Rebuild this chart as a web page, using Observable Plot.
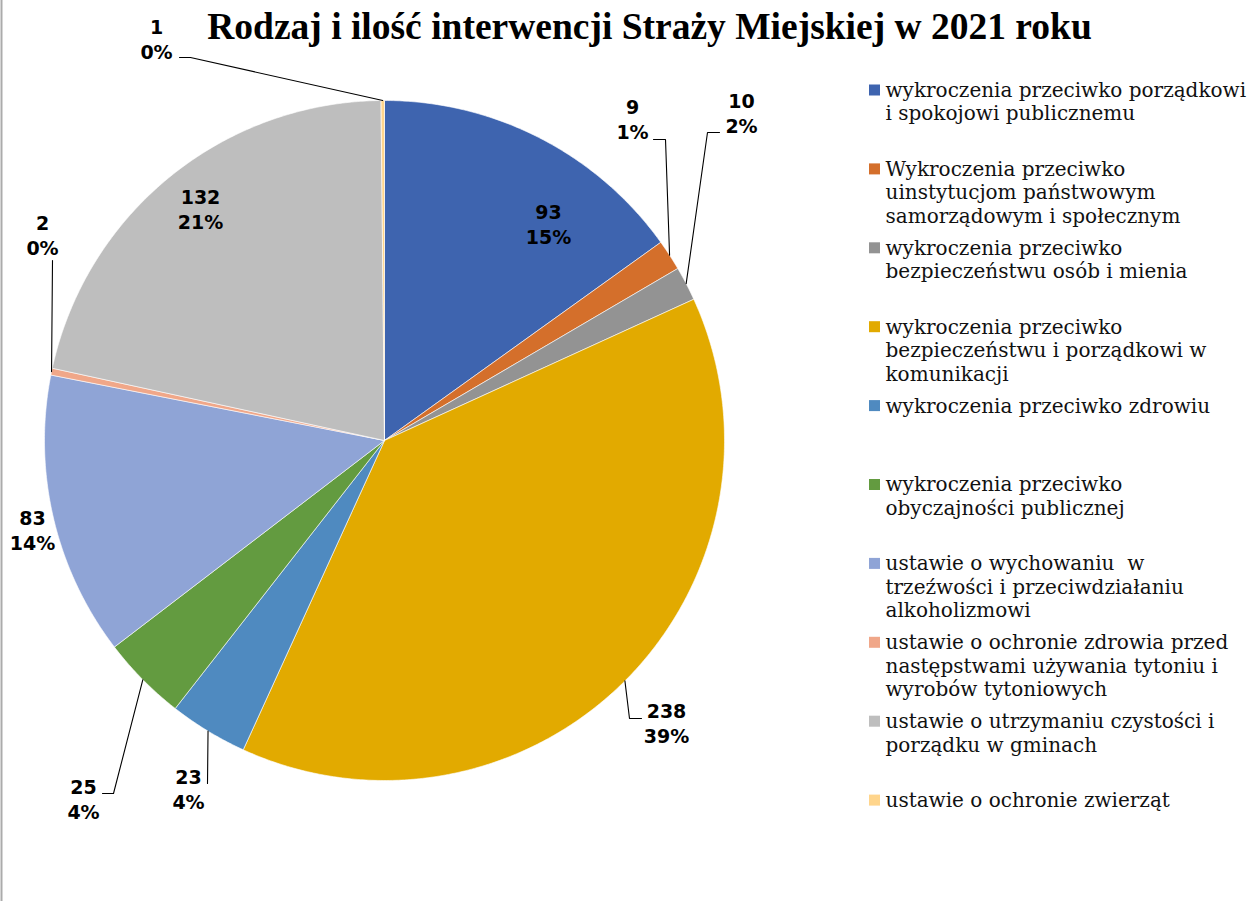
<!DOCTYPE html>
<html><head><meta charset="utf-8">
<script src="https://cdn.jsdelivr.net/npm/d3@7"></script>
<script src="https://cdn.jsdelivr.net/npm/@observablehq/plot@0.6"></script>
<style>html,body{margin:0;padding:0;background:#fff}svg{display:block}</style>
</head><body><div id="chart"></div>
<script>
// ---- data ----
const title = "Rodzaj i ilość interwencji Straży Miejskiej w 2021 roku";
const categories = [
  "wykroczenia przeciwko porządkowi i spokojowi publicznemu",
  "Wykroczenia przeciwko uinstytucjom państwowym samorządowym i społecznym",
  "wykroczenia przeciwko bezpieczeństwu osób i mienia",
  "wykroczenia przeciwko bezpieczeństwu i porządkowi w komunikacji",
  "wykroczenia przeciwko zdrowiu",
  "wykroczenia przeciwko obyczajności publicznej",
  "ustawie o wychowaniu  w trzeźwości i przeciwdziałaniu alkoholizmowi",
  "ustawie o ochronie zdrowia przed następstwami używania tytoniu i wyrobów tytoniowych",
  "ustawie o utrzymaniu czystości i porządku w gminach",
  "ustawie o ochronie zwierząt"
];
const legendLines = [
  ["wykroczenia przeciwko porządkowi", "i spokojowi publicznemu"],
  ["Wykroczenia przeciwko", "uinstytucjom państwowym", "samorządowym i społecznym"],
  ["wykroczenia przeciwko", "bezpieczeństwu osób i mienia"],
  ["wykroczenia przeciwko", "bezpieczeństwu i porządkowi w", "komunikacji"],
  ["wykroczenia przeciwko zdrowiu"],
  ["wykroczenia przeciwko", "obyczajności publicznej"],
  ["ustawie o wychowaniu  w", "trzeźwości i przeciwdziałaniu", "alkoholizmowi"],
  ["ustawie o ochronie zdrowia przed", "następstwami używania tytoniu i", "wyrobów tytoniowych"],
  ["ustawie o utrzymaniu czystości i", "porządku w gminach"],
  ["ustawie o ochronie zwierząt"]
];
const values = [93, 9, 10, 238, 23, 25, 83, 2, 132, 1];
const percentLabels = ["15%", "1%", "2%", "39%", "4%", "4%", "14%", "0%", "21%", "0%"];
const colors = ["#3E64AF", "#D46F2B", "#939393", "#E2AA00", "#4F8AC0", "#639B40", "#8FA4D6", "#F0A789", "#BEBEBE", "#FFD58C"];

// ---- layout ----
const W = 1252, H = 901, CX = 384, CY = 440, R = 340;
const labelPos = [[548,225],[632,120],[741,113.5],[666,723.5],[188,789.5],[83,800],[32,530.5],[42,236],[200,210],[156,39.5]];
const leaderBends = [null, [[665,139],[653,139]], [[707,132],[719,132]], [[629,718],[641,718]], [[207,783]], [[113,793],[102,793]], null, [[52,260]], null, [[190,57],[179,57]]];
const labelLH = 25;
const legendX = 885, legendY0 = 90, legendStep = 78.9, legendLH = 23.5;

// ---- geometry from values ----
const arcs = d3.pie().sort(null).value(d => d)(values);
const pt = a => ({x: CX + R * Math.sin(a), y: CY - R * Math.cos(a)});
const sliceRows = [];
arcs.forEach((a, i) => {
  const n = Math.max(2, Math.ceil((a.endAngle - a.startAngle) / (Math.PI / 360)));
  sliceRows.push({i, x: CX, y: CY});
  for (let k = 0; k <= n; k++) {
    const p = pt(a.startAngle + (a.endAngle - a.startAngle) * k / n);
    sliceRows.push({i, ...p});
  }
  sliceRows.push({i, x: CX, y: CY});
});
const leaderRows = [];
arcs.forEach((a, i) => {
  if (!leaderBends[i]) return;
  const p = pt((a.startAngle + a.endAngle) / 2);
  leaderRows.push({i, ...p});
  leaderBends[i].forEach(([x, y]) => leaderRows.push({i, x, y}));
});
const labelRows = [];
values.forEach((v, i) => {
  labelRows.push({text: String(v), x: labelPos[i][0], y: labelPos[i][1] - labelLH / 2});
  labelRows.push({text: percentLabels[i], x: labelPos[i][0], y: labelPos[i][1] + labelLH / 2});
});
const legendTextRows = [];
legendLines.forEach((lines, i) => lines.forEach((t, k) =>
  legendTextRows.push({i, text: t, y: legendY0 + i * legendStep + k * legendLH})));
const legendSw = categories.map((c, i) => ({c, y: legendY0 + i * legendStep}));

const chart = Plot.plot({
  width: W, height: H,
  margin: 0,
  x: {domain: [0, W], range: [0, W], axis: null},
  y: {domain: [0, H], range: [0, H], axis: null},
  color: {domain: categories, range: colors},
  style: {background: "#fff", overflow: "visible"},
  marks: [
    Plot.ruleX([1], {stroke: "#ababab", strokeWidth: 2}),
    Plot.line(sliceRows, {x: "x", y: "y", z: "i", fill: d => categories[d.i], stroke: "#fff", strokeWidth: 0.6, curve: "linear"}),
    Plot.line(leaderRows, {x: "x", y: "y", z: "i", stroke: "#000", strokeWidth: 1.1}),
    Plot.text(labelRows, {x: "x", y: "y", text: "text", fontFamily: "DejaVu Sans", fontWeight: "bold", fontSize: 19, fill: "#000", textAnchor: "middle", lineAnchor: "middle"}),
    Plot.rect(legendSw, {x1: 869, x2: 880, y1: d => d.y - 5.5, y2: d => d.y + 5.5, fill: "c"}),
    Plot.text(legendTextRows, {x: legendX, y: "y", text: "text", fontFamily: "DejaVu Serif", fontSize: 20, fill: "#111", textAnchor: "start", lineAnchor: "middle"}),
    Plot.text([title], {x: 649, y: 26.5, text: d => d, fontFamily: "Liberation Serif", fontWeight: "bold", fontSize: 37.5, fill: "#000", textAnchor: "middle", lineAnchor: "middle"})
  ]
});
document.getElementById("chart").appendChild(chart);
</script>
</body></html>
